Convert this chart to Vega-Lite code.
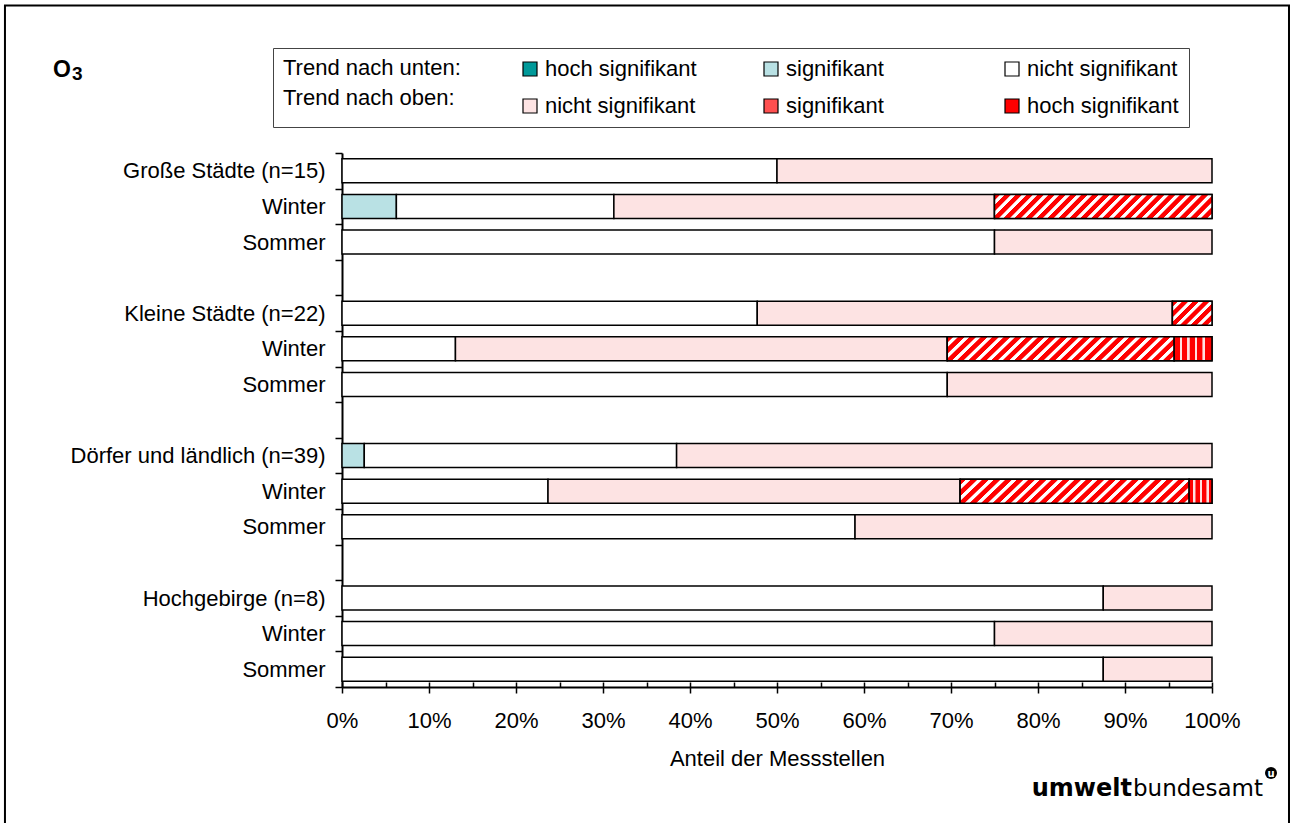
{
  "$schema": "https://vega.github.io/schema/vega-lite/v6.json",
  "width": 870,
  "height": 534,
  "autosize": "none",
  "padding": {"left": 342, "top": 153, "right": 79, "bottom": 136},
  "background": "white",
  "config": {"view": {"stroke": null}, "font": "Liberation Sans"},
  "datasets": {
    "segs": [
      {"row": "01|Große Städte (n=15)", "cat": "u_nicht", "start": 0, "end": 50},
      {"row": "01|Große Städte (n=15)", "cat": "o_nicht", "start": 50, "end": 100},
      {"row": "02|Winter", "cat": "u_sig", "start": 0, "end": 6.25},
      {"row": "02|Winter", "cat": "u_nicht", "start": 6.25, "end": 31.25},
      {"row": "02|Winter", "cat": "o_nicht", "start": 31.25, "end": 75},
      {"row": "02|Winter", "cat": "o_sig", "start": 75, "end": 100},
      {"row": "03|Sommer", "cat": "u_nicht", "start": 0, "end": 75},
      {"row": "03|Sommer", "cat": "o_nicht", "start": 75, "end": 100},
      {"row": "05|Kleine Städte (n=22)", "cat": "u_nicht", "start": 0, "end": 47.73},
      {"row": "05|Kleine Städte (n=22)", "cat": "o_nicht", "start": 47.73, "end": 95.45},
      {"row": "05|Kleine Städte (n=22)", "cat": "o_sig", "start": 95.45, "end": 100},
      {"row": "06|Winter", "cat": "u_nicht", "start": 0, "end": 13.04},
      {"row": "06|Winter", "cat": "o_nicht", "start": 13.04, "end": 69.57},
      {"row": "06|Winter", "cat": "o_sig", "start": 69.57, "end": 95.65},
      {"row": "06|Winter", "cat": "o_hoch", "start": 95.65, "end": 100},
      {"row": "07|Sommer", "cat": "u_nicht", "start": 0, "end": 69.57},
      {"row": "07|Sommer", "cat": "o_nicht", "start": 69.57, "end": 100},
      {"row": "09|Dörfer und ländlich (n=39)", "cat": "u_sig", "start": 0, "end": 2.56},
      {"row": "09|Dörfer und ländlich (n=39)", "cat": "u_nicht", "start": 2.56, "end": 38.46},
      {"row": "09|Dörfer und ländlich (n=39)", "cat": "o_nicht", "start": 38.46, "end": 100},
      {"row": "10|Winter", "cat": "u_nicht", "start": 0, "end": 23.68},
      {"row": "10|Winter", "cat": "o_nicht", "start": 23.68, "end": 71.05},
      {"row": "10|Winter", "cat": "o_sig", "start": 71.05, "end": 97.37},
      {"row": "10|Winter", "cat": "o_hoch", "start": 97.37, "end": 100},
      {"row": "11|Sommer", "cat": "u_nicht", "start": 0, "end": 58.97},
      {"row": "11|Sommer", "cat": "o_nicht", "start": 58.97, "end": 100},
      {"row": "13|Hochgebirge (n=8)", "cat": "u_nicht", "start": 0, "end": 87.5},
      {"row": "13|Hochgebirge (n=8)", "cat": "o_nicht", "start": 87.5, "end": 100},
      {"row": "14|Winter", "cat": "u_nicht", "start": 0, "end": 75},
      {"row": "14|Winter", "cat": "o_nicht", "start": 75, "end": 100},
      {"row": "15|Sommer", "cat": "u_nicht", "start": 0, "end": 87.5},
      {"row": "15|Sommer", "cat": "o_nicht", "start": 87.5, "end": 100}
    ]
  },
  "layer": [
    {
      "data": {"name": "segs"},
      "layer": [
        {
          "mark": {"type": "bar", "height": {"band": 0.675}, "stroke": "black", "strokeWidth": 1.5},
          "encoding": {
            "y": {
              "field": "row", "type": "nominal", "sort": null,
              "scale": {"domain": ["01|Große Städte (n=15)", "02|Winter", "03|Sommer", "04|", "05|Kleine Städte (n=22)", "06|Winter", "07|Sommer", "08|", "09|Dörfer und ländlich (n=39)", "10|Winter", "11|Sommer", "12|", "13|Hochgebirge (n=8)", "14|Winter", "15|Sommer"], "paddingInner": 0, "paddingOuter": 0},
              "axis": {"title": null, "orient": "left", "labelExpr": "split(datum.value, '|')[1]", "tickBand": "extent", "tickSize": 7, "tickWidth": 1.5, "tickColor": "black", "domainColor": "black", "domainWidth": 2, "labelFontSize": 22, "labelFont": "Liberation Sans", "labelColor": "black", "labelPadding": 10, "labelLimit": 400, "grid": false}
            },
            "x": {
              "field": "start", "type": "quantitative",
              "scale": {"domain": [0, 100], "nice": false, "zero": false},
              "axis": {"orient": "bottom", "values": [0, 10, 20, 30, 40, 50, 60, 70, 80, 90, 100], "labelExpr": "datum.value + '%'", "tickSize": 6, "tickWidth": 1.5, "tickColor": "black", "domainColor": "black", "domainWidth": 2, "labelFontSize": 22, "labelFont": "Liberation Sans", "labelColor": "black", "labelPadding": 17, "labelFlush": false, "labelOverlap": false, "title": "Anteil der Messstellen", "titleFontSize": 22, "titleFont": "Liberation Sans", "titleFontWeight": "normal", "titleColor": "black", "titlePadding": 17, "grid": false}
            },
            "x2": {"field": "end"},
            "color": {
              "field": "cat", "type": "nominal",
              "scale": {"domain": ["u_hoch", "u_sig", "u_nicht", "o_nicht", "o_sig", "o_hoch"], "range": ["#009999", "#b9e1e4", "#ffffff", "#fde3e3", "#ff5050", "#ff0000"]},
              "legend": {
                "orient": "none", "legendX": -69, "legendY": -105,
                "title": ["Trend nach unten:", "Trend nach oben:"],
                "titleOrient": "left", "titleAnchor": "start", "titleLineHeight": 30, "titleFontSize": 22, "titleFontWeight": "normal", "titleFont": "Liberation Sans", "titleColor": "black", "titlePadding": 58,
                "columns": 3, "direction": "horizontal", "gridAlign": "all", "columnPadding": 63, "rowPadding": 15,
                "symbolType": "square", "symbolSize": 196, "symbolStrokeColor": "black", "symbolStrokeWidth": 1.2, "symbolOpacity": 1,
                "labelFontSize": 22, "labelFont": "Liberation Sans", "labelColor": "black", "labelOffset": 4, "labelLimit": 300,
                "labelExpr": "{'u_hoch': 'hoch signifikant', 'u_sig': 'signifikant', 'u_nicht': 'nicht signifikant', 'o_nicht': 'nicht signifikant', 'o_sig': 'signifikant', 'o_hoch': 'hoch signifikant'}[datum.value]",
                "padding": 10, "strokeColor": "#444444", "fillColor": "white"
              }
            }
          }
        },
        {
          "transform": [{"filter": "datum.cat === 'o_sig' && datum.end - datum.start > 20"}],
          "mark": {"type": "bar", "height": {"band": 0.675}, "stroke": "black", "strokeWidth": 1.5,
            "fill": {"gradient": "linear", "x1": 0, "y1": 0, "x2": 1.096, "y2": 0.1195, "stops": [
              {"offset": 0, "color": "#ff0000"}, {"offset": 0.02273, "color": "#ff0000"}, {"offset": 0.02636, "color": "#ffffff"}, {"offset": 0.04182, "color": "#ffffff"},
              {"offset": 0.04545, "color": "#ff0000"}, {"offset": 0.06818, "color": "#ff0000"}, {"offset": 0.07182, "color": "#ffffff"}, {"offset": 0.08727, "color": "#ffffff"},
              {"offset": 0.09091, "color": "#ff0000"}, {"offset": 0.11364, "color": "#ff0000"}, {"offset": 0.11727, "color": "#ffffff"}, {"offset": 0.13273, "color": "#ffffff"},
              {"offset": 0.13636, "color": "#ff0000"}, {"offset": 0.15909, "color": "#ff0000"}, {"offset": 0.16273, "color": "#ffffff"}, {"offset": 0.17818, "color": "#ffffff"},
              {"offset": 0.18182, "color": "#ff0000"}, {"offset": 0.20455, "color": "#ff0000"}, {"offset": 0.20818, "color": "#ffffff"}, {"offset": 0.22364, "color": "#ffffff"},
              {"offset": 0.22727, "color": "#ff0000"}, {"offset": 0.25, "color": "#ff0000"}, {"offset": 0.25364, "color": "#ffffff"}, {"offset": 0.26909, "color": "#ffffff"},
              {"offset": 0.27273, "color": "#ff0000"}, {"offset": 0.29545, "color": "#ff0000"}, {"offset": 0.29909, "color": "#ffffff"}, {"offset": 0.31455, "color": "#ffffff"},
              {"offset": 0.31818, "color": "#ff0000"}, {"offset": 0.34091, "color": "#ff0000"}, {"offset": 0.34455, "color": "#ffffff"}, {"offset": 0.36, "color": "#ffffff"},
              {"offset": 0.36364, "color": "#ff0000"}, {"offset": 0.38636, "color": "#ff0000"}, {"offset": 0.39, "color": "#ffffff"}, {"offset": 0.40545, "color": "#ffffff"},
              {"offset": 0.40909, "color": "#ff0000"}, {"offset": 0.43182, "color": "#ff0000"}, {"offset": 0.43545, "color": "#ffffff"}, {"offset": 0.45091, "color": "#ffffff"},
              {"offset": 0.45455, "color": "#ff0000"}, {"offset": 0.47727, "color": "#ff0000"}, {"offset": 0.48091, "color": "#ffffff"}, {"offset": 0.49636, "color": "#ffffff"},
              {"offset": 0.5, "color": "#ff0000"}, {"offset": 0.52273, "color": "#ff0000"}, {"offset": 0.52636, "color": "#ffffff"}, {"offset": 0.54182, "color": "#ffffff"},
              {"offset": 0.54545, "color": "#ff0000"}, {"offset": 0.56818, "color": "#ff0000"}, {"offset": 0.57182, "color": "#ffffff"}, {"offset": 0.58727, "color": "#ffffff"},
              {"offset": 0.59091, "color": "#ff0000"}, {"offset": 0.61364, "color": "#ff0000"}, {"offset": 0.61727, "color": "#ffffff"}, {"offset": 0.63273, "color": "#ffffff"},
              {"offset": 0.63636, "color": "#ff0000"}, {"offset": 0.65909, "color": "#ff0000"}, {"offset": 0.66273, "color": "#ffffff"}, {"offset": 0.67818, "color": "#ffffff"},
              {"offset": 0.68182, "color": "#ff0000"}, {"offset": 0.70455, "color": "#ff0000"}, {"offset": 0.70818, "color": "#ffffff"}, {"offset": 0.72364, "color": "#ffffff"},
              {"offset": 0.72727, "color": "#ff0000"}, {"offset": 0.75, "color": "#ff0000"}, {"offset": 0.75364, "color": "#ffffff"}, {"offset": 0.76909, "color": "#ffffff"},
              {"offset": 0.77273, "color": "#ff0000"}, {"offset": 0.79545, "color": "#ff0000"}, {"offset": 0.79909, "color": "#ffffff"}, {"offset": 0.81455, "color": "#ffffff"},
              {"offset": 0.81818, "color": "#ff0000"}, {"offset": 0.84091, "color": "#ff0000"}, {"offset": 0.84455, "color": "#ffffff"}, {"offset": 0.86, "color": "#ffffff"},
              {"offset": 0.86364, "color": "#ff0000"}, {"offset": 0.88636, "color": "#ff0000"}, {"offset": 0.89, "color": "#ffffff"}, {"offset": 0.90545, "color": "#ffffff"},
              {"offset": 0.90909, "color": "#ff0000"}, {"offset": 0.93182, "color": "#ff0000"}, {"offset": 0.93545, "color": "#ffffff"}, {"offset": 0.95091, "color": "#ffffff"},
              {"offset": 0.95455, "color": "#ff0000"}, {"offset": 0.97727, "color": "#ff0000"}, {"offset": 0.98091, "color": "#ffffff"}, {"offset": 0.99636, "color": "#ffffff"},
              {"offset": 1, "color": "#ff0000"}
            ]}},
          "encoding": {
            "y": {"field": "row", "type": "nominal", "sort": null},
            "x": {"field": "start", "type": "quantitative", "scale": {"domain": [0, 100], "nice": false, "zero": false}},
            "x2": {"field": "end"}
          }
        },
        {
          "transform": [{"filter": "datum.cat === 'o_sig' && datum.end - datum.start < 20"}],
          "mark": {"type": "bar", "height": {"band": 0.675}, "stroke": "black", "strokeWidth": 1.5,
            "fill": {"gradient": "linear", "x1": 0, "y1": 0, "x2": 1.174, "y2": 0.7134, "stops": [
              {"offset": 0, "color": "#ff0000"}, {"offset": 0.08333, "color": "#ff0000"}, {"offset": 0.09667, "color": "#ffffff"}, {"offset": 0.15333, "color": "#ffffff"},
              {"offset": 0.16667, "color": "#ff0000"}, {"offset": 0.25, "color": "#ff0000"}, {"offset": 0.26333, "color": "#ffffff"}, {"offset": 0.32, "color": "#ffffff"},
              {"offset": 0.33333, "color": "#ff0000"}, {"offset": 0.41667, "color": "#ff0000"}, {"offset": 0.43, "color": "#ffffff"}, {"offset": 0.48667, "color": "#ffffff"},
              {"offset": 0.5, "color": "#ff0000"}, {"offset": 0.58333, "color": "#ff0000"}, {"offset": 0.59667, "color": "#ffffff"}, {"offset": 0.65333, "color": "#ffffff"},
              {"offset": 0.66667, "color": "#ff0000"}, {"offset": 0.75, "color": "#ff0000"}, {"offset": 0.76333, "color": "#ffffff"}, {"offset": 0.82, "color": "#ffffff"},
              {"offset": 0.83333, "color": "#ff0000"}, {"offset": 0.91667, "color": "#ff0000"}, {"offset": 0.93, "color": "#ffffff"}, {"offset": 0.98667, "color": "#ffffff"},
              {"offset": 1, "color": "#ff0000"}
            ]}},
          "encoding": {
            "y": {"field": "row", "type": "nominal", "sort": null},
            "x": {"field": "start", "type": "quantitative", "scale": {"domain": [0, 100], "nice": false, "zero": false}},
            "x2": {"field": "end"}
          }
        },
        {
          "transform": [{"filter": "datum.cat === 'o_hoch' && datum.end - datum.start > 3"}],
          "mark": {"type": "bar", "height": {"band": 0.675}, "stroke": "black", "strokeWidth": 1.5,
            "fill": {"gradient": "linear", "x1": 0, "y1": 0, "x2": 1, "y2": 0, "stops": [
              {"offset": 0, "color": "#ff0000"}, {"offset": 0.143, "color": "#ff0000"}, {"offset": 0.153, "color": "#ffe0e0"}, {"offset": 0.203, "color": "#ffe0e0"},
              {"offset": 0.213, "color": "#ff0000"}, {"offset": 0.343, "color": "#ff0000"}, {"offset": 0.353, "color": "#ffe0e0"}, {"offset": 0.403, "color": "#ffe0e0"},
              {"offset": 0.413, "color": "#ff0000"}, {"offset": 0.543, "color": "#ff0000"}, {"offset": 0.553, "color": "#ffe0e0"}, {"offset": 0.603, "color": "#ffe0e0"},
              {"offset": 0.613, "color": "#ff0000"}, {"offset": 0.743, "color": "#ff0000"}, {"offset": 0.753, "color": "#ffe0e0"}, {"offset": 0.803, "color": "#ffe0e0"},
              {"offset": 0.813, "color": "#ff0000"}, {"offset": 1, "color": "#ff0000"}
            ]}},
          "encoding": {
            "y": {"field": "row", "type": "nominal", "sort": null},
            "x": {"field": "start", "type": "quantitative", "scale": {"domain": [0, 100], "nice": false, "zero": false}},
            "x2": {"field": "end"}
          }
        },
        {
          "transform": [{"filter": "datum.cat === 'o_hoch' && datum.end - datum.start < 3"}],
          "mark": {"type": "bar", "height": {"band": 0.675}, "stroke": "black", "strokeWidth": 1.5,
            "fill": {"gradient": "linear", "x1": 0, "y1": 0, "x2": 1, "y2": 0, "stops": [
              {"offset": 0, "color": "#ff0000"}, {"offset": 0.168, "color": "#ff0000"}, {"offset": 0.183, "color": "#ffe0e0"}, {"offset": 0.271, "color": "#ffe0e0"},
              {"offset": 0.286, "color": "#ff0000"}, {"offset": 0.461, "color": "#ff0000"}, {"offset": 0.476, "color": "#ffe0e0"}, {"offset": 0.564, "color": "#ffe0e0"},
              {"offset": 0.579, "color": "#ff0000"}, {"offset": 0.751, "color": "#ff0000"}, {"offset": 0.766, "color": "#ffe0e0"}, {"offset": 0.854, "color": "#ffe0e0"},
              {"offset": 0.869, "color": "#ff0000"}, {"offset": 1, "color": "#ff0000"}
            ]}},
          "encoding": {
            "y": {"field": "row", "type": "nominal", "sort": null},
            "x": {"field": "start", "type": "quantitative", "scale": {"domain": [0, 100], "nice": false, "zero": false}},
            "x2": {"field": "end"}
          }
        }
      ]
    },
    {
      "data": {"values": [{}]},
      "layer": [
        {
          "mark": {"type": "rect", "fill": "white", "fillOpacity": 0, "stroke": "black", "strokeWidth": 2},
          "encoding": {
            "x": {"datum": -38.74, "type": "quantitative", "scale": {"domain": [0, 100], "nice": false, "zero": false},
              "axis": {"orient": "bottom", "values": [0, 5, 10, 15, 20, 25, 30, 35, 40, 45, 50, 55, 60, 65, 70, 75, 80, 85, 90, 95, 100], "tickSize": -5, "tickWidth": 1.5, "tickColor": "black", "labels": false, "domain": false, "title": null, "grid": false}},
            "x2": {"datum": 108.85},
            "y": {"datum": 1.2762, "type": "quantitative", "scale": {"domain": [0, 1], "nice": false}, "axis": null},
            "y2": {"datum": -0.2584}
          }
        },
        {
          "mark": {"type": "text", "text": "O", "align": "left", "baseline": "alphabetic", "font": "Liberation Sans", "fontSize": 23, "fontWeight": "bold", "color": "black"},
          "encoding": {
            "x": {"datum": -33.22, "type": "quantitative", "scale": {"domain": [0, 100], "nice": false, "zero": false}},
            "y": {"datum": 1.1423, "type": "quantitative", "scale": {"domain": [0, 1], "nice": false}, "axis": null}
          }
        },
        {
          "mark": {"type": "text", "text": "3", "align": "left", "baseline": "alphabetic", "font": "Liberation Sans", "fontSize": 19, "fontWeight": "bold", "color": "black"},
          "encoding": {
            "x": {"datum": -31.03, "type": "quantitative", "scale": {"domain": [0, 100], "nice": false, "zero": false}},
            "y": {"datum": 1.1367, "type": "quantitative", "scale": {"domain": [0, 1], "nice": false}, "axis": null}
          }
        },
        {
          "mark": {"type": "text", "text": "umwelt", "align": "right", "baseline": "alphabetic", "font": "DejaVu Sans", "fontSize": 24, "fontWeight": "bold", "color": "black"},
          "encoding": {
            "x": {"datum": 90.8, "type": "quantitative", "scale": {"domain": [0, 100], "nice": false, "zero": false}},
            "y": {"datum": -0.2041, "type": "quantitative", "scale": {"domain": [0, 1], "nice": false}, "axis": null}
          }
        },
        {
          "mark": {"type": "text", "text": "bundesamt", "align": "left", "baseline": "alphabetic", "font": "DejaVu Sans", "fontSize": 23, "fontWeight": "normal", "color": "black"},
          "encoding": {
            "x": {"datum": 90.92, "type": "quantitative", "scale": {"domain": [0, 100], "nice": false, "zero": false}},
            "y": {"datum": -0.2041, "type": "quantitative", "scale": {"domain": [0, 1], "nice": false}, "axis": null}
          }
        },
        {
          "mark": {"type": "point", "filled": true, "color": "black", "opacity": 1, "size": 144},
          "encoding": {
            "x": {"datum": 106.78, "type": "quantitative", "scale": {"domain": [0, 100], "nice": false, "zero": false}},
            "y": {"datum": -0.161, "type": "quantitative", "scale": {"domain": [0, 1], "nice": false}, "axis": null}
          }
        },
        {
          "mark": {"type": "text", "text": "u", "align": "center", "baseline": "middle", "font": "DejaVu Sans", "fontSize": 10, "fontWeight": "bold", "color": "white"},
          "encoding": {
            "x": {"datum": 106.78, "type": "quantitative", "scale": {"domain": [0, 100], "nice": false, "zero": false}},
            "y": {"datum": -0.162, "type": "quantitative", "scale": {"domain": [0, 1], "nice": false}, "axis": null}
          }
        }
      ]
    }
  ],
  "resolve": {"scale": {"y": "independent"}, "axis": {"x": "independent", "y": "independent"}}
}
